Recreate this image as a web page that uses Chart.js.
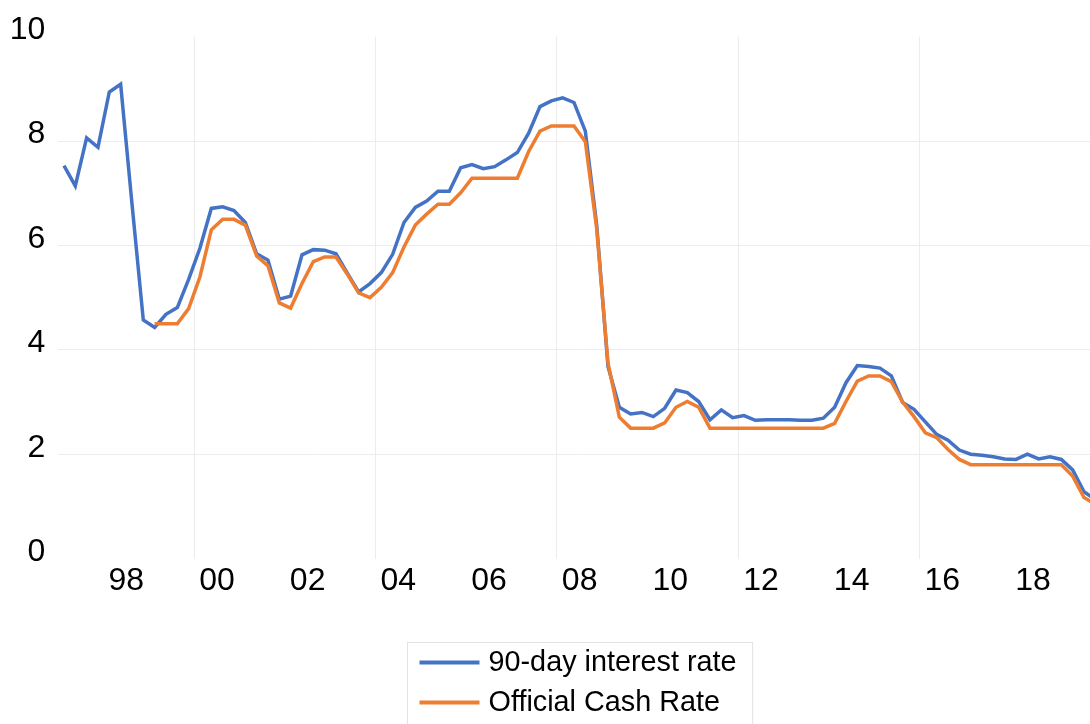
<!DOCTYPE html>
<html>
<head>
<meta charset="utf-8">
<script src="https://cdn.jsdelivr.net/npm/chart.js@4.4.1/dist/chart.umd.min.js"></script>
<style>
  html, body { margin: 0; padding: 0; background: #ffffff; overflow: hidden; }
  #wrap { position: relative; width: 1101px; height: 724px; }
</style>
</head>
<body>
<div id="wrap"><canvas id="chart"></canvas></div>
<script>
// Quarterly observations, 1997 Q1 to 2019 Q4
const quarters = [
  '1997Q1','1997Q2','1997Q3','1997Q4','1998Q1','1998Q2','1998Q3','1998Q4',
  '1999Q1','1999Q2','1999Q3','1999Q4','2000Q1','2000Q2','2000Q3','2000Q4',
  '2001Q1','2001Q2','2001Q3','2001Q4','2002Q1','2002Q2','2002Q3','2002Q4',
  '2003Q1','2003Q2','2003Q3','2003Q4','2004Q1','2004Q2','2004Q3','2004Q4',
  '2005Q1','2005Q2','2005Q3','2005Q4','2006Q1','2006Q2','2006Q3','2006Q4',
  '2007Q1','2007Q2','2007Q3','2007Q4','2008Q1','2008Q2','2008Q3','2008Q4',
  '2009Q1','2009Q2','2009Q3','2009Q4','2010Q1','2010Q2','2010Q3','2010Q4',
  '2011Q1','2011Q2','2011Q3','2011Q4','2012Q1','2012Q2','2012Q3','2012Q4',
  '2013Q1','2013Q2','2013Q3','2013Q4','2014Q1','2014Q2','2014Q3','2014Q4',
  '2015Q1','2015Q2','2015Q3','2015Q4','2016Q1','2016Q2','2016Q3','2016Q4',
  '2017Q1','2017Q2','2017Q3','2017Q4','2018Q1','2018Q2','2018Q3','2018Q4',
  '2019Q1','2019Q2','2019Q3','2019Q4'
];

// 90-day bank bill rate, %
const rate90 = [
  7.53, 7.14, 8.06, 7.88, 8.94, 9.09, 6.80, 4.57,
  4.43, 4.68, 4.81, 5.35, 5.95, 6.71, 6.74, 6.67,
  6.44, 5.84, 5.72, 4.97, 5.03, 5.82, 5.92, 5.91,
  5.84, 5.47, 5.11, 5.27, 5.48, 5.83, 6.44, 6.73,
  6.85, 7.04, 7.04, 7.49, 7.55, 7.47, 7.51, 7.64,
  7.78, 8.15, 8.66, 8.77, 8.83, 8.74, 8.19, 6.40,
  3.68, 2.90, 2.77, 2.80, 2.72, 2.88, 3.23, 3.18,
  3.01, 2.66, 2.85, 2.70, 2.74, 2.65, 2.66, 2.66,
  2.66, 2.65, 2.65, 2.69, 2.90, 3.37, 3.70, 3.68,
  3.65, 3.50, 2.99, 2.86, 2.62, 2.38, 2.27, 2.08,
  2.00, 1.98, 1.95, 1.91, 1.90, 2.00, 1.91, 1.95,
  1.90, 1.70, 1.28, 1.13
];

// Official Cash Rate, % (introduced March 1999)
const cashRate = [
  null, null, null, null, null, null, null, null,
  4.50, 4.50, 4.50, 4.79, 5.40, 6.30, 6.50, 6.50,
  6.39, 5.80, 5.61, 4.90, 4.80, 5.27, 5.69, 5.78,
  5.78, 5.45, 5.09, 5.00, 5.20, 5.48, 5.97, 6.39,
  6.60, 6.79, 6.79, 7.01, 7.29, 7.29, 7.29, 7.29,
  7.29, 7.80, 8.19, 8.29, 8.29, 8.29, 7.99, 6.33,
  3.75, 2.71, 2.50, 2.50, 2.50, 2.60, 2.90, 3.01,
  2.90, 2.50, 2.50, 2.50, 2.50, 2.50, 2.50, 2.50,
  2.50, 2.50, 2.50, 2.50, 2.59, 3.01, 3.40, 3.50,
  3.50, 3.39, 3.00, 2.72, 2.41, 2.32, 2.09, 1.90,
  1.80, 1.80, 1.80, 1.80, 1.80, 1.80, 1.80, 1.80,
  1.80, 1.58, 1.17, 1.04
];

const seriesNames = ['90-day interest rate', 'Official Cash Rate'];
const seriesColors = ['#4472C4', '#ED7D31'];

// Year labels sit in the middle of their year; grid lines mark every fourth year start
const labelYears = [1998, 2000, 2002, 2004, 2006, 2008, 2010, 2012, 2014, 2016, 2018];
const labelTexts = ['98', '00', '02', '04', '06', '08', '10', '12', '14', '16', '18'];
const gridYears = [2000, 2004, 2008, 2012, 2016];
const yTickValues = [0, 2, 4, 6, 8, 10];

const FONT = '"Liberation Sans", Arial, Helvetica, sans-serif';
const GRID = '#ececec';

// position of a quarter on a continuous year axis (mid-quarter)
function quarterPos(q) {
  const [yr, qn] = q.split('Q');
  return Number(yr) + (Number(qn) - 0.5) / 4;
}
function toPoints(values) {
  return quarters.map((q, i) => ({ x: quarterPos(q), y: values[i] }));
}

// Boxed, stacked legend centred under the plot area
const boxedLegend = {
  id: 'boxedLegend',
  afterDraw(chart) {
    const { ctx, chartArea } = chart;
    const items = chart.data.datasets.map(d => ({ text: d.label, color: d.borderColor }));
    ctx.save();
    ctx.font = '28.8px ' + FONT;
    const textW = Math.max(...items.map(it => ctx.measureText(it.text).width));
    const padL = 12, lineLen = 60, gap = 9, padR = 16, rowH = 40, padT = 20;
    const w = padL + lineLen + gap + textW + padR;
    const cx = (chartArea.left + chartArea.right) / 2;
    const left = Math.round(cx - w / 2) + 0.5;
    const top = Math.round(chartArea.bottom + 83) + 0.5;
    const h = padT * 2 + rowH * (items.length - 1) + 6;
    ctx.strokeStyle = '#e3e3e3';
    ctx.lineWidth = 1;
    ctx.strokeRect(left, top, w, h);
    items.forEach((it, i) => {
      const y = top + padT + i * rowH;
      ctx.strokeStyle = it.color;
      ctx.lineWidth = 4;
      ctx.beginPath();
      ctx.moveTo(left + padL, y);
      ctx.lineTo(left + padL + lineLen, y);
      ctx.stroke();
      ctx.fillStyle = '#000000';
      ctx.textAlign = 'left';
      ctx.textBaseline = 'middle';
      ctx.fillText(it.text, left + padL + lineLen + gap, y + 1);
    });
    ctx.restore();
  }
};

new Chart(document.getElementById('chart'), {
  type: 'line',
  data: {
    datasets: [
      {
        label: seriesNames[0],
        data: toPoints(rate90),
        borderColor: seriesColors[0],
        backgroundColor: seriesColors[0],
        borderWidth: 3.5,
        pointRadius: 0,
        tension: 0,
        order: 1
      },
      {
        label: seriesNames[1],
        data: toPoints(cashRate),
        borderColor: seriesColors[1],
        backgroundColor: seriesColors[1],
        borderWidth: 3.5,
        pointRadius: 0,
        tension: 0,
        order: 0
      }
    ]
  },
  options: {
    responsive: true,
    maintainAspectRatio: false,
    animation: false,
    layout: { padding: { top: 36.7, left: 0, right: 0, bottom: 117.4 } },
    plugins: {
      legend: { display: false },
      tooltip: { enabled: false }
    },
    scales: {
      x: {
        type: 'linear',
        min: 1997,
        max: 2020,
        afterBuildTicks: s => {
          const t = labelYears.map(y => ({ value: y + 0.5 }))
            .concat(gridYears.map(y => ({ value: y })));
          s.ticks = t.sort((a, b) => a.value - b.value);
        },
        afterFit: s => { s.height = 48; },
        border: { display: false },
        grid: {
          drawTicks: false,
          lineWidth: 1,
          color: c => (c.tick && gridYears.includes(c.tick.value)) ? GRID : 'rgba(0,0,0,0)'
        },
        ticks: {
          autoSkip: false,
          maxRotation: 0,
          padding: 3,
          color: '#000000',
          font: { family: FONT, size: 32 },
          callback: v => {
            const i = labelYears.indexOf(v - 0.5);
            return i >= 0 ? labelTexts[i] : '';
          }
        }
      },
      y: {
        min: 0,
        max: 10,
        afterBuildTicks: s => { s.ticks = yTickValues.map(v => ({ value: v })); },
        afterFit: s => { s.width = 58.3; },
        border: { display: false },
        grid: {
          drawTicks: false,
          lineWidth: 1,
          color: c => (c.tick && c.tick.value > 0 && c.tick.value < 10) ? GRID : 'rgba(0,0,0,0)'
        },
        ticks: {
          padding: 13,
          labelOffset: -6.5,
          color: '#000000',
          font: { family: FONT, size: 32 }
        }
      }
    }
  },
  plugins: [boxedLegend]
});
</script>
</body>
</html>
